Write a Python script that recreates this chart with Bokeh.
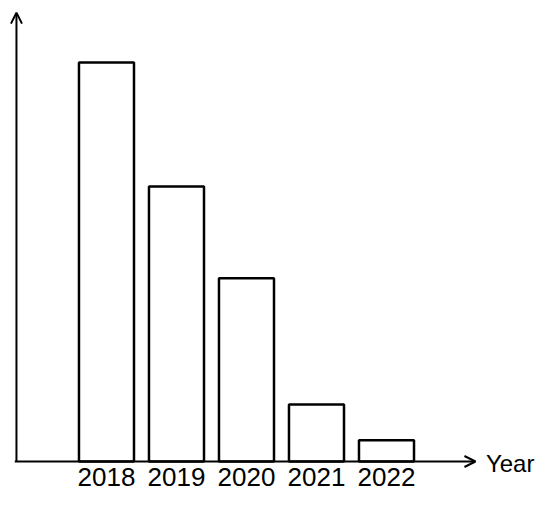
from bokeh.plotting import figure
from bokeh.models import Arrow, OpenHead, Range1d, ColumnDataSource
from bokeh.core.properties import value
from bokeh.embed import file_html
from bokeh.resources import INLINE

years = ["2018", "2019", "2020", "2021", "2022"]
values = [100, 68.9, 45.9, 14.3, 5.3]
positions = [0, 1, 2, 3, 4]
axis_title = "Year"

p = figure(width=540, height=492, output_backend="svg", toolbar_location=None,
           x_range=Range1d(-1.514, 6.2), y_range=Range1d(-7.77, 115.54),
           min_border_left=0, min_border_right=0, min_border_top=0, min_border_bottom=0)
p.outline_line_color = None
p.grid.visible = False
p.axis.visible = False

src = ColumnDataSource(dict(x=positions, top=values, label=years))

p.vbar(x="x", top="top", bottom=0, width=0.786, source=src,
       fill_color="white", line_color="black", line_width=2.5)

# axes with arrows
p.add_layout(Arrow(x_start=-1.31, y_start=0, x_end=5.271, y_end=0,
                   end=OpenHead(size=11, line_width=2, line_color="black"),
                   line_width=2, line_color="black"))
p.add_layout(Arrow(x_start=-1.286, y_start=0, x_end=-1.286, y_end=112.5,
                   end=OpenHead(size=11, line_width=2, line_color="black"),
                   line_width=2, line_color="black"))

# category labels under the axis
p.text(x="x", y=-3.8, text="label", source=src, text_align="center",
       text_baseline="alphabetic", text_font=value("Liberation Sans"),
       text_font_size="26px", text_color="black")

# axis title
p.text(x=[5.42], y=[-0.4], text=[axis_title], text_align="left",
       text_baseline="alphabetic", text_font=value("Liberation Sans"),
       text_font_size="24px", text_color="black")

open("out.html", "w").write(file_html(p, INLINE))
